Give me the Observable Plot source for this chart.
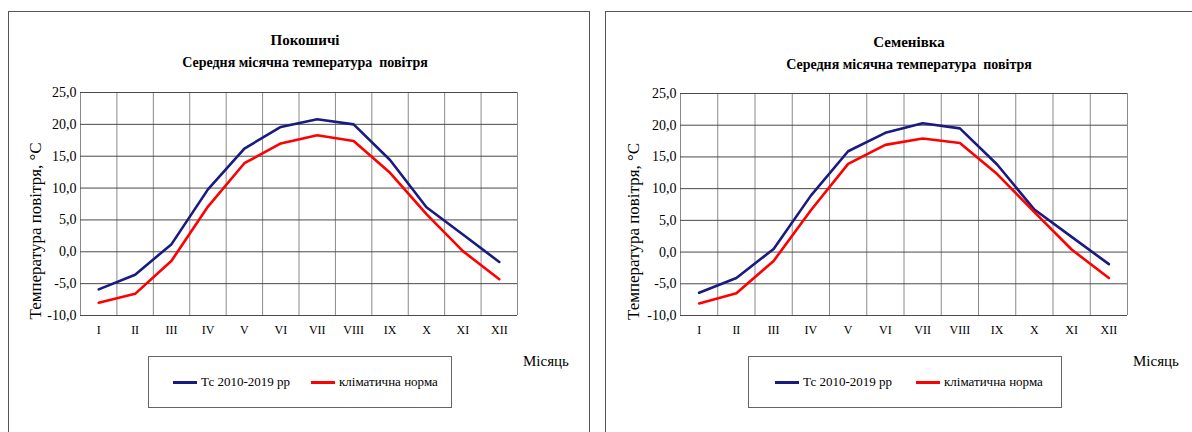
<!DOCTYPE html>
<html>
<head>
<meta charset="utf-8">
<script src="https://cdn.jsdelivr.net/npm/d3@7"></script>
<script src="https://cdn.jsdelivr.net/npm/@observablehq/plot@0.6"></script>
<style>
  html, body { margin: 0; padding: 0; background: #fff; }
  #root { position: relative; width: 1192px; height: 432px; overflow: hidden; font-family: 'Liberation Serif', serif; }
  .panel { position: absolute; border: 1px solid #555; box-sizing: border-box; }
  .chart { position: absolute; top: 0; }
  .legend { position: absolute; border: 1px solid #666; box-sizing: border-box; background: #fff; font-size: 13px; font-family: 'Liberation Serif', serif; }
  .item { position: absolute; top: 50%; transform: translateY(-50%); white-space: nowrap; display: flex; align-items: center; font-family: 'Liberation Serif', serif; }
  .sw { display: inline-block; width: 24px; height: 3px; margin-right: 4px; }
  .xlabel { position: absolute; font-size: 15px; font-family: 'Liberation Serif', serif; }
</style>
</head>
<body>
<div id="root"></div>
<script>
// ---- data ----
const months = ["I", "II", "III", "IV", "V", "VI", "VII", "VIII", "IX", "X", "XI", "XII"];
const yTicks = [-10, -5, 0, 5, 10, 15, 20, 25];
const pokoshychiTc   = [-5.9, -3.6, 1.2, 9.8, 16.2, 19.6, 20.8, 20.0, 14.4, 7.0, 2.7, -1.6];
const pokoshychiNorm = [-8.0, -6.6, -1.4, 7.1, 13.9, 17.0, 18.3, 17.4, 12.4, 5.9, 0.1, -4.3];
const semenivkaTc    = [-6.4, -4.1, 0.5, 8.9, 15.9, 18.8, 20.3, 19.5, 13.8, 6.7, 2.4, -1.9];
const semenivkaNorm  = [-8.1, -6.5, -1.4, 6.6, 13.9, 16.9, 17.9, 17.2, 12.3, 6.3, 0.4, -4.1];
const seriesNames = ["Тс 2010-2019 рр", "кліматична норма"];
const seriesColors = ["#1a1a80", "#ff0000"];
const subtitle = "Середня місячна температура  повітря";
const yLabel = "Температура повітря, °С";
const xLabel = "Місяць";

const root = document.getElementById("root");
const serif = "'Liberation Serif', serif";
const hasAxisMarks = typeof Plot.axisX === "function";

function makeChart(cfg) {
  const toRows = (arr) => arr.map((v, i) => ({m: i + 1, v}));
  const fmt = (d) => d.toFixed(1).replace(".", ",");
  const monthFmt = (i) => months[i - 1];
  const axisMarks = hasAxisMarks ? [
    Plot.axisX(d3.range(1, 13), {tickFormat: monthFmt, tickSize: 0, tickPadding: 10, fontSize: 12, label: null, fontFamily: serif}),
    Plot.axisY(yTicks, {tickFormat: fmt, tickSize: 0, tickPadding: 4, fontSize: 14, label: null, fontFamily: serif})
  ] : [];
  const svg = Plot.plot({
    width: 596,
    height: 345,
    marginLeft: cfg.ml,
    marginRight: cfg.mr,
    marginTop: cfg.mt,
    marginBottom: 345 - 315,
    style: {fontFamily: serif, fontSize: "13px", background: "transparent", color: "#000"},
    x: {domain: [0.5, 12.5], ticks: d3.range(1, 13), tickFormat: monthFmt, tickSize: 0, tickPadding: 10, label: null},
    y: {domain: [-10, 25], ticks: yTicks, tickFormat: fmt, tickSize: 0, tickPadding: 4, label: null},
    marks: [
      Plot.ruleX(d3.range(0.5, 13, 1), {stroke: "#8a8a8a", strokeWidth: 1}),
      Plot.ruleY(yTicks, {stroke: "#4a4a4a", strokeWidth: 1}),
      ...axisMarks,
      Plot.line(toRows(cfg.tc), {x: "m", y: "v", stroke: seriesColors[0], strokeWidth: 2.6}),
      Plot.line(toRows(cfg.norm), {x: "m", y: "v", stroke: seriesColors[1], strokeWidth: 2.6}),
      Plot.text([cfg.title], {frameAnchor: "top", lineAnchor: "middle", textAnchor: "middle", dx: cfg.tdx, dy: cfg.t1dy, fontWeight: "bold", fontSize: 15, fontFamily: serif}),
      Plot.text([subtitle], {frameAnchor: "top", lineAnchor: "middle", textAnchor: "middle", dx: cfg.tdx, dy: cfg.t2dy, fontWeight: "bold", fontSize: 14, fontFamily: serif}),
      Plot.text([yLabel], {frameAnchor: "left", textAnchor: "middle", lineAnchor: "middle", dx: cfg.ydx, dy: 27, rotate: -90, fontSize: 17, fontFamily: serif})
    ]
  });
  svg.classList.add("chart");
  svg.style.left = cfg.left + "px";
  root.appendChild(svg);

  const leg = document.createElement("div");
  leg.className = "legend";
  Object.assign(leg.style, {left: cfg.leg[0] + "px", top: "356px", width: (cfg.leg[1] - cfg.leg[0]) + "px", height: "52px"});
  seriesNames.forEach((name, k) => {
    const it = document.createElement("div");
    it.className = "item";
    it.style.left = cfg.legItems[k] + "px";
    const sw = document.createElement("span");
    sw.className = "sw";
    sw.style.background = seriesColors[k];
    it.appendChild(sw);
    it.appendChild(document.createTextNode(name));
    leg.appendChild(it);
  });
  root.appendChild(leg);

  const xl = document.createElement("div");
  xl.className = "xlabel";
  xl.textContent = xLabel;
  Object.assign(xl.style, {left: cfg.xl + "px", top: "353px"});
  root.appendChild(xl);
}

// panel borders
[[8, 582], [605, 620]].forEach(([l, w]) => {
  const p = document.createElement("div");
  p.className = "panel";
  Object.assign(p.style, {left: l + "px", top: "11px", width: w + "px", height: "440px"});
  root.appendChild(p);
});

makeChart({title: "Покошичі", tc: pokoshychiTc, norm: pokoshychiNorm, left: 0, ml: 80, mr: 596 - 517, mt: 92,
  tdx: 6, t1dy: -52, t2dy: -30, ydx: -45, leg: [148, 452], legItems: [24, 162], xl: 523});
makeChart({title: "Семенівка", tc: semenivkaTc, norm: semenivkaNorm, left: 596, ml: 84, mr: 596 - 531, mt: 93,
  tdx: 5, t1dy: -51, t2dy: -29, ydx: -47, leg: [748, 1062], legItems: [26, 167], xl: 1133});
</script>
</body>
</html>
